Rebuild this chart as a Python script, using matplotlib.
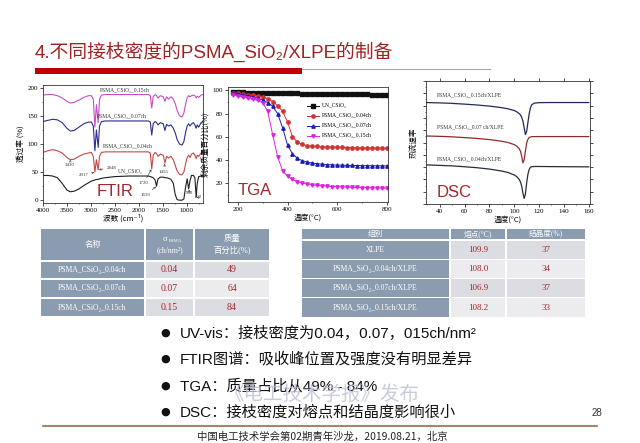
import matplotlib
matplotlib.use("Agg")
import matplotlib.pyplot as plt
from matplotlib.patches import Rectangle
from matplotlib.ticker import MultipleLocator

plt.rcParams['font.family'] = ['Liberation Sans', 'Noto Sans CJK SC', 'DejaVu Sans']
SERIF = ['Liberation Serif', 'Noto Sans CJK SC', 'DejaVu Serif']
CJK = ['Noto Sans CJK SC', 'DejaVu Sans']
W, H = 640, 443

# ---- FTIR data (wavenumber, transmittance %) ----
ftir_wn = [4000, 3900, 3800, 3700, 3600, 3500, 3430, 3350, 3250, 3150, 3050, 2990,
           2950, 2917, 2885, 2848, 2820, 2780, 2700, 2500, 2200, 2000, 1800, 1760,
           1730, 1700, 1660, 1630, 1600, 1550, 1490, 1455, 1420, 1380, 1330, 1280,
           1240, 1200, 1150, 1100, 1060, 1020, 990, 960, 930, 900, 860, 830, 802,
           780, 750, 700, 665]
ftir_015 = [187, 188, 188, 186, 182, 176, 173, 174, 178, 183, 186, 186, 180, 130,
            170, 138, 180, 187, 188, 188, 188, 188, 188, 186, 164, 184, 188, 186,
            182, 186, 184, 176, 184, 180, 184, 180, 172, 160, 150, 148, 155, 172,
            182, 186, 184, 186, 187, 186, 182, 185, 183, 187, 188]
ftir_007 = [140, 142, 144, 143, 138, 128, 123, 124, 130, 136, 139, 139, 132, 88,
            125, 94, 132, 140, 141, 141, 141, 141, 141, 139, 116, 136, 140, 138,
            134, 138, 136, 124, 135, 132, 134, 128, 120, 108, 100, 98, 104, 122,
            132, 136, 132, 136, 138, 134, 128, 134, 130, 138, 140]
ftir_004 = [85, 88, 90, 88, 84, 76, 72, 73, 78, 82, 84, 85, 78, 50, 72, 54, 78,
            85, 86, 86, 86, 86, 86, 84, 56, 80, 85, 83, 78, 82, 80, 66, 78, 75, 78,
            72, 62, 52, 46, 45, 50, 66, 76, 80, 76, 82, 84, 80, 74, 80, 78, 84, 86]
ftir_un = [44, 44, 43, 40, 30, 18, 15, 16, 20, 26, 31, 34, 35, 36, 37, 37, 38, 39,
           40, 42, 43, 43, 43, 42, 41, 40, 36, 25, 38, 41, 41, 40, 40, 39, 37, 30,
           10, 1, 0, 0, 2, 25, 38, 20, 35, 44, 44, 40, 6, 30, 42, 43, 43]

# ---- TGA data (temperature, residual mass %) ----
tga_t = [180, 200, 220, 240, 260, 280, 300, 320, 340, 360, 380, 400, 420, 440, 460,
         480, 500, 520, 540, 560, 580, 600, 620, 640, 660, 680, 700, 720, 740, 760,
         780, 800]
tga_un = [98.5, 98.4, 98.3, 98.2, 98.1, 98.0, 98.0, 97.9, 97.8, 97.8, 97.7, 97.6,
          97.6, 97.5, 97.4, 97.4, 97.3, 97.2, 97.2, 97.1, 97.0, 97.0, 96.9, 96.8,
          96.8, 96.7, 96.6, 96.6, 96.5, 96.4, 96.4, 96.3]
tga_004 = [98, 97.5, 97, 96.5, 96, 95.5, 94.5, 93, 90.5, 87, 82, 73, 60, 55.5, 53.5,
           52.5, 52, 51.8, 51.6, 51.4, 51.2, 51, 51, 50.9, 50.8, 50.7, 50.6, 50.5,
           50.4, 50.4, 50.3, 50.2]
tga_007 = [97.5, 97, 96.3, 95.5, 94.5, 93.3, 91.8, 89.5, 86.5, 80, 68, 53, 45.5,
           41.5, 39.5, 38.3, 37.5, 37, 36.5, 36.2, 36, 35.8, 35.7, 35.6, 35.5, 35.4,
           35.3, 35.3, 35.2, 35.2, 35.1, 35.1]
tga_015 = [96.5, 95.5, 94.5, 93.5, 92.5, 91.5, 89.5, 82, 62, 43, 31, 26, 23.5, 21.5,
           20.3, 19.5, 18.8, 18.3, 17.9, 17.6, 17.3, 17.1, 16.9, 16.8, 16.6, 16.5,
           16.4, 16.3, 16.2, 16.1, 16, 15.9]

# ---- DSC data (temperature, heat flow, arbitrary) ----
dsc_t = [29, 40, 50, 60, 70, 80, 90, 95, 100, 102, 104, 105, 106, 107, 108, 109,
         110, 111, 112, 113, 114, 116, 120, 130, 145, 160]
dsc_015 = [82.5, 82.2, 81.8, 81.2, 80.5, 79.6, 78.3, 77.4, 76, 75, 73.5, 72.5, 70.5,
           67.5, 62, 56.5, 59, 66, 73, 78, 80.5, 82, 82.4, 82.5, 82.5, 82.5]
dsc_007 = [55.3, 55, 54.6, 54, 53.3, 52.4, 51, 50, 48.3, 47, 45, 43, 39, 33.5, 36,
           43, 49.5, 52.5, 54, 54.5, 54.7, 54.8, 54.8, 54.8, 54.8, 54.8]
dsc_004 = [31.8, 31.4, 31, 30.3, 29.5, 28.4, 26.8, 25.6, 23.6, 22.3, 20, 18, 14.5, 9,
           4.5, 8, 17, 24, 28, 29.8, 30.3, 30.5, 30.5, 30.4, 30.3, 30.2]

# ---- tables ----
t1_names = ["PSMA_CSiO₂_0.04ch", "PSMA_CSiO₂_0.07ch", "PSMA_CSiO₂_0.15ch"]
t1_sigma = ["0.04", "0.07", "0.15"]
t1_mass = ["49", "64", "84"]
t2_groups = ["XLPE", "PSMA_SiO₂_0.04ch/XLPE", "PSMA_SiO₂_0.07ch/XLPE",
             "PSMA_SiO₂_0.15ch/XLPE"]
t2_tm = ["109.9", "108.0", "106.9", "108.2"]
t2_xc = ["37", "34", "37", "33"]

bullets = ["UV-vis：接枝密度为0.04，0.07，015ch/nm²",
           "FTIR图谱：吸收峰位置及强度没有明显差异",
           "TGA：质量占比从49% - 84%",
           "DSC：接枝密度对熔点和结晶度影响很小"]

HEAD = "#8B9CB1"
VAL_BG = ["#DCDDE2", "#ECECEF"]
VAL_TXT = "#A3262C"
LABEL_RED = "#A0282A"

fig = plt.figure(figsize=(W / 100, H / 100), dpi=100)


def px_axes(l, t, r, b):
    return fig.add_axes([l / W, 1 - b / H, (r - l) / W, (b - t) / H])


def style_axes(ax):
    for s in ax.spines.values():
        s.set_linewidth(0.6)
        s.set_color("#333333")
    ax.tick_params(labelsize=5, length=2, width=0.5, pad=1.5)
    ax.tick_params(which="minor", length=1, width=0.4)
    for lab in ax.get_xticklabels() + ax.get_yticklabels():
        lab.set_family(SERIF)


bg = fig.add_axes([0, 0, 1, 1])
bg.set_xlim(0, W)
bg.set_ylim(H, 0)
bg.axis("off")

# title
bg.text(35, 52, "4.不同接枝密度的PSMA_SiO₂/XLPE的制备", fontsize=13.5,
        color="#A02323", va="center", ha="left")
bg.add_patch(Rectangle((35, 68), 267, 6, color="#C00000", lw=0))
bg.plot([302, 490], [69, 69], color="#A8A8A8", lw=0.8)

# ---- FTIR ----
ax1 = px_axes(43, 85, 203, 203)
ax1.plot(ftir_wn, ftir_015, color="#C44EC4", lw=0.8)
ax1.plot(ftir_wn, ftir_007, color="#2B2E8C", lw=0.8)
ax1.plot(ftir_wn, ftir_004, color="#C24848", lw=0.8)
ax1.plot(ftir_wn, ftir_un, color="#1E1E1E", lw=0.8)
ax1.set_xlim(4000, 660)
ax1.set_ylim(-5, 205)
ax1.set_xticks([4000, 3500, 3000, 2500, 2000, 1500, 1000])
ax1.set_yticks([0, 50, 100, 150, 200])
ax1.xaxis.set_minor_locator(MultipleLocator(250))
ax1.yaxis.set_minor_locator(MultipleLocator(25))
style_axes(ax1)
ax1.set_xlabel("波数 (cm⁻¹)", fontsize=5.5, family=CJK, labelpad=1)
ax1.set_ylabel("透过率 (%)", fontsize=5.5, family=CJK, labelpad=2)
for x, y, s in [(2812, 196, "PSMA_CSiO₂_0.15ch"), (2875, 149, "PSMA_CSiO₂_0.07ch"),
                (2750, 96, "PSMA_CSiO₂_0.04ch"), (2437, 51, "UN_CSiO₂")]:
    ax1.text(x, y, s, fontsize=4, family=SERIF, color="#333333", va="center")
arrow = dict(arrowstyle="->", lw=0.4, color="#333333", shrinkA=0.5, shrinkB=0.5)
for s, xy, xyt in [("3430", (3430, 72), (3437, 62)), ("2917", (2917, 50), (3146, 44)),
                   ("2848", (2848, 54), (2570, 58)), ("1720", (1730, 56), (1900, 30)),
                   ("1630", (1630, 25), (1854, 9)), ("1455", (1455, 66), (1479, 50)),
                   ("960", (960, 20), (935, 12)), ("802", (802, 6), (760, 5))]:
    ax1.annotate(s, xy=xy, xytext=xyt, fontsize=3.5, family=SERIF, ha="center",
                 va="center", color="#333333", arrowprops=arrow)
ax1.text(0.3375, 0.06, "FTIR", transform=ax1.transAxes, fontsize=12,
         color=LABEL_RED, ha="left", va="baseline")

# ---- TGA ----
ax2 = px_axes(228, 87, 388, 202)
ms = 2.4
ax2.plot(tga_t, tga_un, "-s", color="#111111", ms=ms, lw=0.7, label="UN_CSiO₂")
ax2.plot(tga_t, tga_004, "-o", color="#D23232", ms=ms, lw=0.7,
         label="PSMA_CSiO₂_0.04ch")
ax2.plot(tga_t, tga_007, "-^", color="#1C1CB4", ms=ms, lw=0.7,
         label="PSMA_CSiO₂_0.07ch")
ax2.plot(tga_t, tga_015, "-v", color="#E020E0", ms=ms, lw=0.7,
         label="PSMA_CSiO₂_0.15ch")
ax2.set_xlim(160, 805)
ax2.set_ylim(4, 103)
ax2.set_xticks([200, 400, 600, 800])
ax2.set_yticks([20, 40, 60, 80, 100])
ax2.xaxis.set_minor_locator(MultipleLocator(100))
ax2.yaxis.set_minor_locator(MultipleLocator(10))
style_axes(ax2)
ax2.set_xlabel("温度(°C)", fontsize=5.5, family=CJK, labelpad=1)
ax2.set_ylabel("剩余质量百分比(%)", fontsize=5.5, family=CJK, labelpad=2)
leg = ax2.legend(loc="upper left", bbox_to_anchor=(0.46, 0.9), frameon=False,
                 prop={"family": SERIF, "size": 4}, handlelength=2.2,
                 labelspacing=0.9, handletextpad=0.5)
ax2.text(0.0625, 0.06, "TGA", transform=ax2.transAxes, fontsize=12,
         color=LABEL_RED, ha="left", va="baseline")

# ---- DSC ----
ax3 = px_axes(426, 81, 590, 204)
ax3.plot(dsc_t, dsc_015, color="#23295A", lw=0.9)
ax3.plot(dsc_t, dsc_007, color="#8E2C2C", lw=0.9)
ax3.plot(dsc_t, dsc_004, color="#262C3C", lw=0.9)
ax3.set_xlim(29, 161)
ax3.set_ylim(0, 100)
ax3.set_xticks([40, 60, 80, 100, 120, 140, 160])
ax3.xaxis.set_minor_locator(MultipleLocator(10))
ax3.yaxis.set_major_locator(MultipleLocator(10))
ax3.yaxis.set_minor_locator(MultipleLocator(5))
style_axes(ax3)
ax3.tick_params(axis="y", labelleft=False, right=True)
ax3.tick_params(axis="x", top=True)
ax3.set_xlabel("温度(°C)", fontsize=5.5, family=CJK, labelpad=1)
ax3.set_ylabel("热流速率", fontsize=5.5, family=CJK, labelpad=2)
for y, s in [(86, "PSMA_CSiO₂_0.15ch/XLPE"), (60, "PSMA_CSiO₂_0.07 ch/XLPE"),
             (34, "PSMA_CSiO₂_0.04ch/XLPE")]:
    ax3.text(37.5, y, s, fontsize=4, family=SERIF, color="#333333", va="bottom")
ax3.text(0.067, 0.057, "DSC", transform=ax3.transAxes, fontsize=12,
         color=LABEL_RED, ha="left", va="baseline")


# ---- tables ----
def cell(x0, x1, y0, y1, color, text, tcolor, size, ty=None):
    bg.add_patch(Rectangle((x0, y0), x1 - x0, y1 - y0, color=color, lw=0))
    bg.text((x0 + x1) / 2, (y0 + y1) / 2 if ty is None else ty, text, ha="center",
            va="center", fontsize=size, color=tcolor, family=SERIF, linespacing=1.3)


c1 = [(41, 144), (146, 193), (195, 269)]
r1 = [(262, 278), (280, 297), (299, 316)]
cell(*c1[0], 229, 260, HEAD, "名称", "white", 6)
cell(*c1[1], 229, 260, HEAD, "(ch/nm²)", "white", 5.5, ty=250)
bg.text(165, 239, "σ", fontsize=6, color="white", family=SERIF, ha="center",
        va="center")
bg.text(169, 240.5, "PSMA", fontsize=3.5, color="white", family=SERIF,
        ha="left", va="center")
cell(*c1[2], 229, 260, HEAD, "质量\n百分比(%)", "white", 6)
for i, (ya, yb) in enumerate(r1):
    cell(*c1[0], ya, yb, HEAD, t1_names[i], "white", 5.5)
    cell(*c1[1], ya, yb, VAL_BG[i % 2], t1_sigma[i], VAL_TXT, 7)
    cell(*c1[2], ya, yb, VAL_BG[i % 2], t1_mass[i], VAL_TXT, 7)

c2 = [(302, 449), (451, 505), (507, 585)]
r2 = [(241, 259), (260, 278), (279, 297), (298, 317)]
cell(*c2[0], 229, 239, HEAD, "组别", "white", 5.5)
cell(*c2[1], 229, 239, HEAD, "熔点(°C)", "white", 5.5)
cell(*c2[2], 229, 239, HEAD, "结晶度(%)", "white", 5.5)
for i, (ya, yb) in enumerate(r2):
    cell(*c2[0], ya, yb, HEAD, t2_groups[i], "white", 5.5)
    cell(*c2[1], ya, yb, VAL_BG[i % 2], t2_tm[i], VAL_TXT, 6.5)
    cell(*c2[2], ya, yb, VAL_BG[i % 2], t2_xc[i], VAL_TXT, 6.5)

# ---- bullets ----
for y, s in zip([333, 359, 386, 412], bullets):
    bg.text(165, y, "●", fontsize=8, color="#111111", ha="center", va="center",
            family=["DejaVu Sans"])
    bg.text(180, y, s, fontsize=11, color="#111111", ha="left", va="center")

# watermark
bg.text(322, 394, "《电工技术学报》发布", fontsize=14, color="#BDBDD8", alpha=0.8,
        ha="center", va="center", family=CJK)

# footer
bg.plot([43, 597], [426, 426], color="#9A6A50", lw=1.2)
bg.text(602, 413, "28", fontsize=7, color="#333333", ha="right", va="center")
bg.text(322, 437, "中国电工技术学会第02期青年沙龙，2019.08.21，北京", fontsize=7.5,
        color="#222222", ha="center", va="center", family=CJK)

fig.savefig("out.png", dpi=100, facecolor="white")
